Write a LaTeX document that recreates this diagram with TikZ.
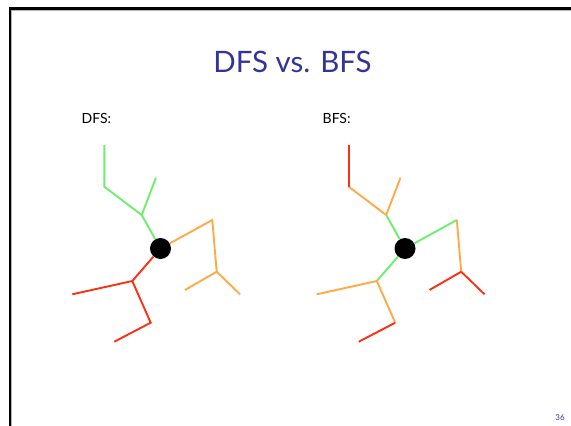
\documentclass[tikz,border=0pt]{standalone}
\usepackage{fontspec}
\setmainfont{Lato}
\usepackage{xcolor}
\usetikzlibrary{positioning}

\definecolor{slideblue}{RGB}{51,51,153}
\definecolor{lvlgreen}{RGB}{110,238,110}
\definecolor{lvlorange}{RGB}{255,170,70}
\definecolor{lvlred}{RGB}{250,50,20}

\tikzset{
  root/.style={circle, fill=black, inner sep=0pt, minimum size=21pt},
  edge/.style={line width=1.9pt},
}

\begin{document}
\begin{tikzpicture}[x=1pt,y=-1pt]
		\useasboundingbox (0,0) rectangle (571,426);
		% slide frame
		\draw[gray!60, line width=1pt] (11.8,426) -- (11.8,10.4) -- (571,10.4);
		\draw[line width=2.4pt] (9.8,426) -- (9.8,8.4) -- (571,8.4);

		\node[text=slideblue, font=\fontsize{29.5}{34}\selectfont] (title) at (292.5,62) {DFS vs. BFS};
		\node[font=\fontsize{14}{16}\selectfont, anchor=west, inner sep=0pt] (dfslbl) at (81.5,118) {DFS:};
		\node[font=\fontsize{14}{16}\selectfont, anchor=west, inner sep=0pt] (bfslbl) at (322.5,118) {BFS:};
		\node[text=slideblue, font=\fontsize{8}{9}\selectfont] (page) at (560,417.5) {36};

		% DFS tree
		\node[root] (droot) at (160.5,248.5) {};
		\coordinate (dg1) at (141.7,215);
		\coordinate (dg2) at (156,177.7);
		\coordinate (dg3) at (104.3,186.7);
		\coordinate (dg4) at (104.3,145);
		\coordinate (do1) at (212.3,220);
		\coordinate (do2) at (216.7,271.7);
		\coordinate (do3) at (185,290);
		\coordinate (do4) at (240,294.3);
		\coordinate (dr1) at (132.3,281);
		\coordinate (dr2) at (72.3,294.3);
		\coordinate (dr3) at (150.7,322.7);
		\coordinate (dr4) at (114.3,341.7);

		\draw[edge, lvlgreen] (droot) -- (dg1) -- (dg2);
		\draw[edge, lvlgreen] (dg1) -- (dg3) -- (dg4);
		\draw[edge, lvlorange] (droot) -- (do1) -- (do2) -- (do3);
		\draw[edge, lvlorange] (do2) -- (do4);
		\draw[edge, lvlred] (droot) -- (dr1) -- (dr2);
		\draw[edge, lvlred] (dr1) -- (dr3) -- (dr4);

		% BFS tree
		\node[root] (broot) at (405,248.5) {};
		\coordinate (bu1) at (386.2,215);
		\coordinate (bu2) at (400.5,177.7);
		\coordinate (bu3) at (348.8,186.7);
		\coordinate (bu4) at (348.8,145);
		\coordinate (br1) at (456.8,220);
		\coordinate (br2) at (461.2,271.7);
		\coordinate (br3) at (429.5,290);
		\coordinate (br4) at (484.5,294.3);
		\coordinate (bl1) at (376.8,281);
		\coordinate (bl2) at (316.8,294.3);
		\coordinate (bl3) at (395.2,322.7);
		\coordinate (bl4) at (358.8,341.7);

		\draw[edge, lvlgreen] (broot) -- (bu1);
		\draw[edge, lvlgreen] (broot) -- (br1);
		\draw[edge, lvlgreen] (broot) -- (bl1);
		\draw[edge, lvlorange] (bu1) -- (bu2);
		\draw[edge, lvlorange] (bu1) -- (bu3);
		\draw[edge, lvlorange] (br1) -- (br2);
		\draw[edge, lvlorange] (bl1) -- (bl2);
		\draw[edge, lvlorange] (bl1) -- (bl3);
		\draw[edge, lvlred] (bu3) -- (bu4);
		\draw[edge, lvlred] (br2) -- (br3);
		\draw[edge, lvlred] (br2) -- (br4);
		\draw[edge, lvlred] (bl3) -- (bl4);
	\end{tikzpicture}
\end{document}
